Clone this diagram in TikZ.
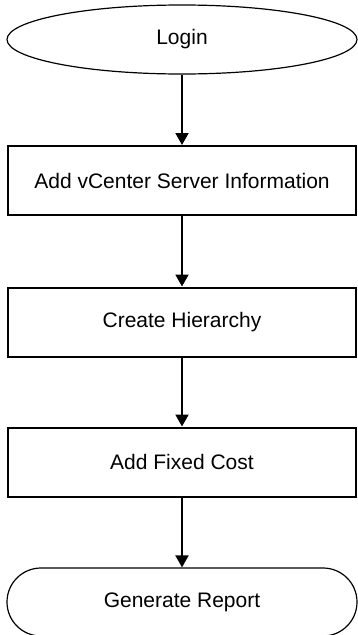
\documentclass[tikz,border=0pt]{standalone}
\usepackage{fontspec}
\setmainfont{Liberation Sans}
\usetikzlibrary{shapes}
\usetikzlibrary{arrows.meta}

\begin{document}
\begin{tikzpicture}[x=1pt,y=1pt,
  font=\fontsize{21}{25}\selectfont,
  stepbox/.style={draw, line width=2pt, rectangle, minimum width=348pt, minimum height=69pt, inner sep=0pt},
  startnode/.style={draw, line width=1.2pt, ellipse, minimum width=350pt, minimum height=69pt, inner sep=0pt},
  endnode/.style={draw, line width=1.2pt, rounded rectangle, minimum width=350pt, minimum height=68pt, inner sep=0pt},
  flow/.style={-{Triangle[length=12pt,width=13pt]}, line width=2pt}]
\useasboundingbox (0,0) rectangle (357,-635);
% the steps
\node[startnode] (login) at (182,-39.5) {Login};
\node[stepbox] (vcenter) at (182,-180.5) {Add vCenter Server Information};
\node[stepbox] (hierarchy) at (182,-322) {Create Hierarchy};
\node[stepbox] (fixedcost) at (182,-462) {Add Fixed Cost};
\node[endnode] (report) at (182,-602) {Generate Report};
% the arrows
\draw[flow] (login) -- (vcenter);
\draw[flow] (vcenter) -- (hierarchy);
\draw[flow] (hierarchy) -- (fixedcost);
\draw[flow] (fixedcost) -- (report);
\end{tikzpicture}
\end{document}
